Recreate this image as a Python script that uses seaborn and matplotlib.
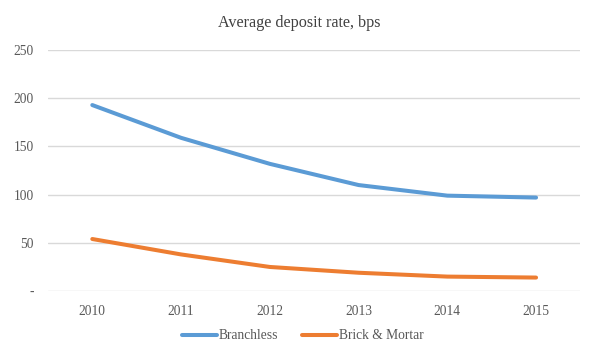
import matplotlib
matplotlib.use("Agg")
import matplotlib.pyplot as plt
import seaborn as sns
import pandas as pd
from matplotlib.lines import Line2D

years = ["2010", "2011", "2012", "2013", "2014", "2015"]
branchless = [193, 159, 132, 110, 99, 97]
brick_mortar = [54, 38, 25, 19, 15, 14]
y_ticks = [0, 50, 100, 150, 200, 250]
y_tick_labels = ["-", "50", "100", "150", "200", "250"]

df = pd.DataFrame({
    "Year": years * 2,
    "Rate": branchless + brick_mortar,
    "Series": ["Branchless"] * len(years) + ["Brick & Mortar"] * len(years),
})

sns.set_theme(style="white")
plt.rcParams["font.family"] = ["Liberation Serif", "DejaVu Serif"]

fig = plt.figure(figsize=(5.99, 3.58), dpi=100)
ax = fig.add_axes([0.080, 0.187, 0.889, 0.673])

sns.lineplot(data=df, x="Year", y="Rate", hue="Series",
             palette={"Branchless": "#5B9BD5", "Brick & Mortar": "#ED7D31"},
             linewidth=2.9, ax=ax, legend=False, sort=False,
             solid_capstyle="round")

ax.set_xlim(-0.5, 5.5)
ax.set_ylim(0, 250)
ax.set_yticks(y_ticks)
ax.set_yticklabels(y_tick_labels)
ax.yaxis.grid(True, color="#D9D9D9", linewidth=1)
ax.set_axisbelow(True)
for s in ax.spines.values():
    s.set_visible(False)
ax.tick_params(axis="both", length=0, labelsize=9.75, colors="#595959")
ax.tick_params(axis="y", pad=10)
ax.tick_params(axis="x", pad=10)
ax.set_xlabel("")
ax.set_ylabel("")

fig.text(0.5, 0.937, "Average deposit rate, bps", ha="center", va="center",
         fontsize=11.6, color="#404040")

handles = [Line2D([0], [0], color="#5B9BD5", lw=2.9, solid_capstyle="round"),
           Line2D([0], [0], color="#ED7D31", lw=2.9, solid_capstyle="round")]
fig.legend(handles, ["Branchless", "Brick & Mortar"], loc="center",
           bbox_to_anchor=(0.505, 0.062), ncol=2, frameon=False,
           fontsize=9.75, labelcolor="#595959", handlelength=2.6,
           handletextpad=0.1, columnspacing=1.8)

fig.savefig("out.png", dpi=100)
